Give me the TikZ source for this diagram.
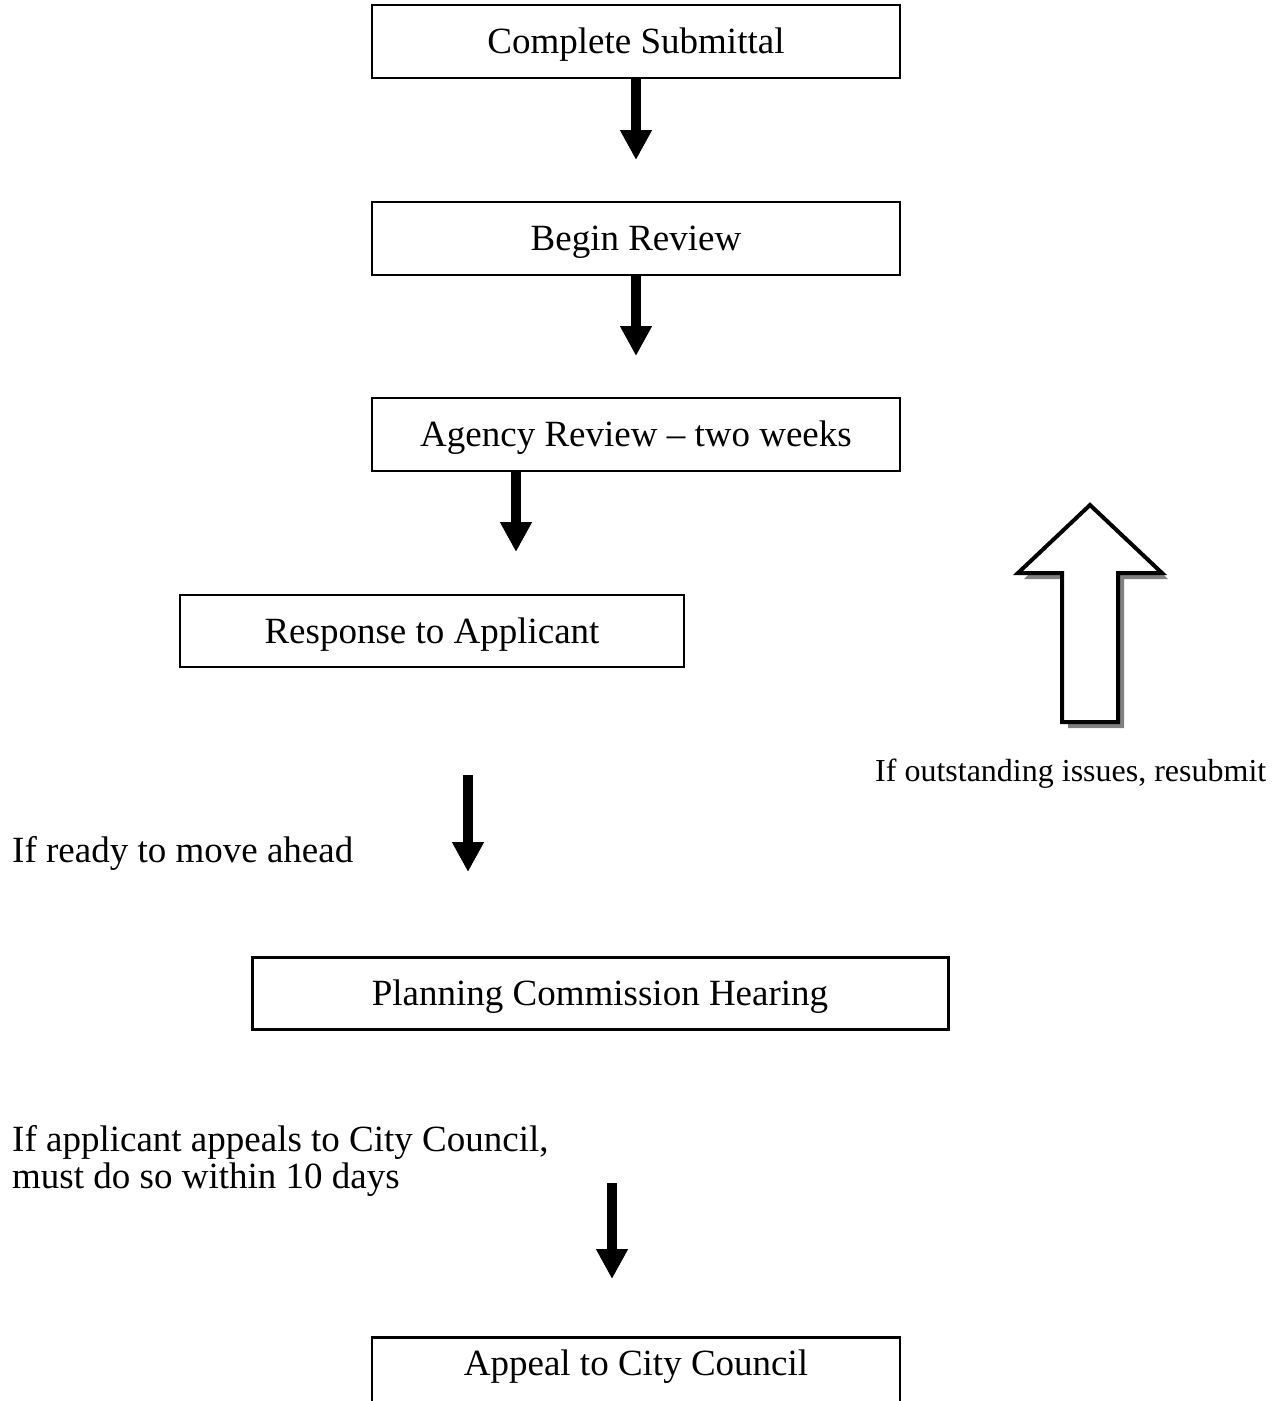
\documentclass[tikz,border=0pt]{standalone}
\usepackage{fontspec}
\setmainfont{Liberation Serif}
\usetikzlibrary{arrows.meta}
\newcommand{\stepw}{528pt}
\newcommand{\steph}{73pt}
\newcommand{\fatw}{10pt}
\newcommand{\fathead}{30pt}
\newcommand{\shadowos}{6}
\newcommand{\resubpath}{(1090,505) -- (1162,573) -- (1118,573) -- (1118,722)
  -- (1062,722) -- (1062,573) -- (1018,573) -- cycle}
\tikzset{
  stepbox/.style={draw, line width=2.5pt, minimum width=\stepw,
    minimum height=\steph, inner sep=0pt, text height=28pt, text depth=4pt,
    font=\fontsize{37}{42}\selectfont},
  fatarrow/.style={line width=\fatw,
    -{Triangle[width=\fathead,length=\fathead]}},
  note/.style={inner sep=0pt, font=\fontsize{37}{37}\selectfont},
}

\begin{document}
\begin{tikzpicture}[x=1pt,y=-1pt]
    \useasboundingbox (0,0) rectangle (1281,1401);
    \clip (0,0) rectangle (1281,1401);

    \node[stepbox] (submit) at (636,41.5) {Complete Submittal};
    \node[stepbox] (begin) at (636,238.5) {Begin Review};
    \node[stepbox] (agency) at (636,434.5) {Agency Review -- two weeks};
    \node[stepbox, minimum width=504pt, minimum height=72pt]
      (response) at (432,631) {Response to Applicant};
    \node[stepbox, line width=3pt, minimum width=696pt, minimum height=72pt]
      (hearing) at (600,993) {Planning Commission Hearing};
    % box runs off the page at the bottom
    \node[stepbox, anchor=north, minimum height=0pt, inner ysep=12pt,
      text height=26pt, text depth=60pt] (appeal) at (636,1336)
      {Appeal to City Council};

    \node[note, anchor=base west] (ready) at (12,862) {If ready to move ahead};
    \node[note, anchor=west, align=left] (council) at (12,1161)
      {If applicant appeals to City Council,\\must do so within 10 days};
    \node[note, anchor=base west, font=\fontsize{32}{36}\selectfont]
      (resubmit) at (875,781) {If outstanding issues, resubmit};

    \coordinate (submitend) at (636,160);
    \coordinate (beginend) at (636,356);
    \coordinate (agencyend) at (516,552);
    \coordinate (readytop) at (468,775);
    \coordinate (readyend) at (468,872);
    \coordinate (appealtop) at (612,1183);
    \coordinate (appealend) at (612,1279);

    \draw[fatarrow] (submit.south) -- (submitend);
    \draw[fatarrow] (begin.south) -- (beginend);
    \draw[fatarrow] (agency.south -| agencyend) -- (agencyend);
    \draw[fatarrow] (readytop) -- (readyend);
    \draw[fatarrow] (appealtop) -- (appealend);

    % hollow arrow back up
    \fill[gray, shift={(\shadowos,\shadowos)}] \resubpath;
    \draw[line width=4pt, fill=white, line join=miter] \resubpath;
\end{tikzpicture}
\end{document}
